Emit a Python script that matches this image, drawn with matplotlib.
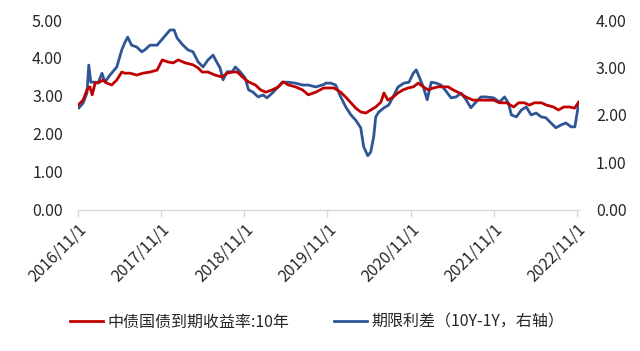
import matplotlib
matplotlib.use("Agg")
import matplotlib.pyplot as plt
import pandas as pd

plt.rcParams['font.family'] = ['Noto Sans CJK SC', 'DejaVu Sans']

# 中债国债到期收益率:10年 (left axis)
red_dates = ["2016-11-01","2016-11-23","2016-12-10","2016-12-23","2017-01-02","2017-01-15",
             "2017-02-06","2017-02-19","2017-03-07","2017-03-29","2017-04-20","2017-05-12",
             "2017-05-25","2017-06-17","2017-07-17","2017-08-13","2017-09-13","2017-10-14",
             "2017-11-06","2017-11-28","2017-12-24","2018-01-15","2018-02-15","2018-03-21",
             "2018-04-12","2018-04-30","2018-05-26","2018-06-26","2018-07-27","2018-08-18",
             "2018-09-10","2018-10-02","2018-10-24","2018-11-20","2018-12-20","2019-01-12",
             "2019-02-03","2019-03-04","2019-03-31","2019-04-22","2019-05-14","2019-06-14",
             "2019-07-15","2019-08-10","2019-09-11","2019-10-16","2019-11-03","2019-11-30",
             "2019-12-30","2020-01-21","2020-02-13","2020-03-05","2020-03-27","2020-04-18",
             "2020-05-10","2020-06-01","2020-06-24","2020-07-07","2020-07-24","2020-08-16",
             "2020-09-07","2020-09-29","2020-10-21","2020-11-13","2020-12-05","2020-12-27",
             "2021-01-18","2021-02-09","2021-03-02","2021-03-28","2021-04-15","2021-05-07",
             "2021-06-03","2021-07-03","2021-08-03","2021-08-30","2021-09-30","2021-11-01",
             "2021-11-27","2021-12-28","2022-01-28","2022-02-19","2022-03-16","2022-04-07",
             "2022-04-29","2022-05-30","2022-06-21","2022-07-22","2022-08-13","2022-09-05",
             "2022-10-01","2022-10-23","2022-11-10"]
red_vals = [2.76,2.89,3.16,3.24,3.03,3.34,
            3.37,3.42,3.34,3.29,3.42,3.63,
            3.60,3.60,3.55,3.60,3.63,3.68,
            3.95,3.90,3.87,3.95,3.87,3.82,
            3.74,3.63,3.63,3.55,3.50,3.60,
            3.63,3.63,3.50,3.37,3.29,3.16,
            3.10,3.16,3.24,3.37,3.29,3.24,
            3.16,3.03,3.10,3.21,3.21,3.21,
            3.10,2.97,2.82,2.68,2.58,2.55,
            2.63,2.71,2.84,3.08,2.89,2.97,
            3.08,3.16,3.21,3.24,3.34,3.24,
            3.16,3.21,3.24,3.24,3.24,3.16,
            3.08,2.97,2.89,2.89,2.89,2.89,
            2.82,2.82,2.71,2.82,2.82,2.76,
            2.82,2.82,2.76,2.71,2.63,2.71,
            2.71,2.68,2.84]

# 期限利差（10Y-1Y，右轴） (right axis)
blue_dates = ["2016-11-05","2016-11-23","2016-12-10","2016-12-18","2016-12-27","2017-01-15",
              "2017-01-28","2017-02-14","2017-02-27","2017-03-21","2017-04-20","2017-05-12",
              "2017-05-25","2017-06-07","2017-06-24","2017-07-17","2017-08-08","2017-08-21",
              "2017-09-13","2017-10-14","2017-11-10","2017-12-10","2017-12-28","2018-01-10",
              "2018-02-05","2018-02-27","2018-03-21","2018-04-12","2018-05-04","2018-05-26",
              "2018-06-17","2018-07-06","2018-07-18","2018-07-31","2018-08-18","2018-09-10",
              "2018-09-23","2018-10-14","2018-11-05","2018-11-20","2018-12-10","2019-01-01",
              "2019-01-23","2019-02-09","2019-03-04","2019-03-26","2019-04-17","2019-05-14",
              "2019-06-14","2019-07-15","2019-08-10","2019-09-11","2019-10-16","2019-10-25",
              "2019-11-16","2019-12-08","2019-12-30","2020-01-21","2020-02-13","2020-03-05",
              "2020-03-27","2020-04-09","2020-04-27","2020-05-10","2020-05-23","2020-06-01",
              "2020-06-14","2020-07-07","2020-07-28","2020-08-16","2020-09-07","2020-10-03",
              "2020-10-25","2020-11-13","2020-11-26","2020-12-09","2020-12-27","2021-01-13",
              "2021-01-31","2021-02-22","2021-03-15","2021-04-06","2021-04-28","2021-05-20",
              "2021-06-11","2021-07-03","2021-07-24","2021-08-15","2021-09-06","2021-09-28",
              "2021-11-01","2021-11-27","2021-12-19","2022-01-05","2022-01-18","2022-02-09",
              "2022-03-02","2022-03-24","2022-04-15","2022-05-07","2022-05-29","2022-06-19",
              "2022-07-11","2022-08-02","2022-08-24","2022-09-15","2022-10-07","2022-10-24",
              "2022-11-10"]
blue_vals = [2.15,2.25,2.46,3.05,2.69,2.69,
             2.67,2.88,2.69,2.84,3.01,3.37,
             3.52,3.64,3.47,3.43,3.33,3.37,
             3.47,3.47,3.62,3.79,3.79,3.62,
             3.47,3.37,3.33,3.12,3.01,3.16,
             3.26,3.09,2.99,2.74,2.91,2.91,
             3.01,2.91,2.78,2.53,2.48,2.38,
             2.42,2.36,2.46,2.57,2.69,2.69,
             2.67,2.63,2.63,2.59,2.64,2.67,
             2.67,2.63,2.38,2.17,2.00,1.89,
             1.73,1.33,1.14,1.22,1.54,1.96,
             2.06,2.15,2.21,2.38,2.59,2.67,
             2.69,2.88,2.95,2.80,2.59,2.32,
             2.69,2.67,2.63,2.50,2.36,2.38,
             2.46,2.32,2.15,2.27,2.38,2.38,
             2.36,2.27,2.38,2.25,2.00,1.96,
             2.10,2.17,2.00,2.04,1.96,1.94,
             1.83,1.73,1.79,1.83,1.75,1.75,
             2.25]

tick_dates = ["2016-11-01","2017-11-01","2018-11-01","2019-11-01",
              "2020-11-01","2021-11-01","2022-11-01"]
tick_labels = ["2016/11/1","2017/11/1","2018/11/1","2019/11/1",
               "2020/11/1","2021/11/1","2022/11/1"]
left_ticks = [0, 1, 2, 3, 4, 5]
right_ticks = [0, 1, 2, 3, 4]

red_name = "中债国债到期收益率:10年"
blue_name = "期限利差（10Y-1Y，右轴）"

RED = "#C00000"
BLUE = "#2F5597"
TXT = "#262626"

fig = plt.figure(figsize=(6.4, 3.51), dpi=100)
ax = fig.add_axes([0.122, 0.402, 0.783, 0.541])
ax2 = ax.twinx()

l1, = ax.plot(pd.to_datetime(red_dates), red_vals, color=RED, lw=2.0, zorder=3)
l2, = ax2.plot(pd.to_datetime(blue_dates), blue_vals, color=BLUE, lw=2.0, zorder=2)
ax.set_zorder(ax2.get_zorder() + 1)
ax.patch.set_visible(False)

ax.set_xlim(pd.Timestamp("2016-11-01"), pd.Timestamp("2022-11-12"))
ax.set_ylim(0, 5)
ax2.set_ylim(0, 4)

ax.set_yticks(left_ticks)
ax.set_yticklabels([f"{v:.2f}" for v in left_ticks])
ax2.set_yticks(right_ticks)
ax2.set_yticklabels([f"{v:.2f}" for v in right_ticks])

ax.set_xticks(pd.to_datetime(tick_dates))
ax.set_xticklabels(tick_labels, rotation=45, ha='right', rotation_mode='anchor')

for a in (ax, ax2):
    for s in ('top', 'left', 'right'):
        a.spines[s].set_visible(False)
    a.spines['bottom'].set_color('#D9D9D9')
    a.spines['bottom'].set_linewidth(1.0)
ax2.spines['bottom'].set_visible(False)

ax.tick_params(axis='x', colors='#D9D9D9', labelcolor=TXT, length=5, width=1.0,
               direction='out', labelsize=11.5, pad=3)
ax.tick_params(axis='y', length=0, labelcolor=TXT, labelsize=11.5, pad=11)
ax2.tick_params(axis='y', length=0, labelcolor=TXT, labelsize=11.5, pad=12)

fig.legend([l1, l2], [red_name, blue_name], loc='center', bbox_to_anchor=(0.495, 0.082),
           ncol=2, frameon=False, fontsize=11.5, handlelength=2.1, columnspacing=2.8,
           handletextpad=0.25, labelcolor=TXT)

fig.savefig("out.png", dpi=100)
